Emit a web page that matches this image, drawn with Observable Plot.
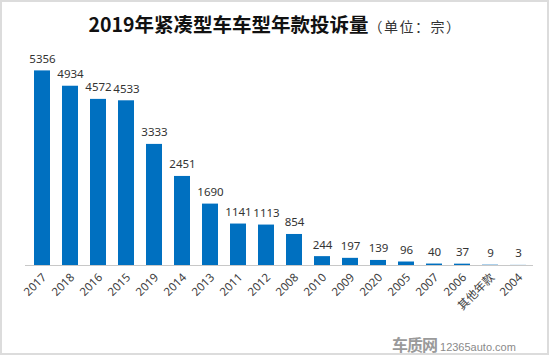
<!DOCTYPE html>
<html>
<head>
<meta charset="utf-8">
<script src="https://cdn.jsdelivr.net/npm/d3@7"></script>
<script src="https://cdn.jsdelivr.net/npm/@observablehq/plot@0.6"></script>
<style>
  html, body { margin: 0; padding: 0; background: #fff; }
  #wrap { position: relative; width: 550px; height: 356px; overflow: hidden; font-family: "Noto Sans CJK SC", "Noto Sans", sans-serif; }
  #frame { position: absolute; left: 0; top: 0; width: 545px; height: 351px; border: 2px solid #dcdcdc; box-sizing: content-box; pointer-events: none; }
  #title { position: absolute; left: 0; top: 9px; width: 550px; text-align: center; white-space: nowrap; color: #111; }
  #title .main { font-size: 19.5px; font-weight: bold; }
  #title .unit { font-size: 14px; color: #333; letter-spacing: 1.5px; }
  #chart { position: absolute; left: 0; top: 0; }
  #logo { position: absolute; left: 392px; top: 332px; white-space: nowrap; color: #8a8a8a; }
  #logo .cn { font-size: 16px; font-weight: bold; color: #9a9a9a; letter-spacing: -1px; }
  #logo .en { font-size: 11px; font-family: "Liberation Sans", sans-serif; color: #8a8a8a; margin-left: 3px; }
</style>
</head>
<body>
<div id="wrap">
  <div id="chart"></div>
  <div id="title"><span class="main">2019年紧凑型车车型年款投诉量</span><span class="unit">（单位：宗）</span></div>
  <div id="logo"><span class="cn">车质网</span><span class="en">12365auto.com</span></div>
  <div id="frame"></div>
</div>
<script>
const categories = ["2017", "2018", "2016", "2015", "2019", "2014", "2013", "2011", "2012", "2008", "2010", "2009", "2020", "2005", "2007", "2006", "其他年款", "2004"];
const values = [5356, 4934, 4572, 4533, 3333, 2451, 1690, 1141, 1113, 854, 244, 197, 139, 96, 40, 37, 9, 3];

const data = categories.map((c, i) => ({category: c, value: values[i]}));

const numFont = "'Noto Sans', 'Noto Sans CJK SC', sans-serif";

const chart = Plot.plot({
  width: 550,
  height: 356,
  marginTop: 47,
  marginBottom: 91,
  marginLeft: 20,
  marginRight: 11,
  style: {fontFamily: numFont, background: "transparent"},
  x: {domain: categories, padding: 0.43, label: null, axis: null},
  y: {domain: [0, 6000], axis: null},
  marks: [
    Plot.barY(data, {x: "category", y: "value", fill: "#0070c0"}),
    Plot.ruleY([0], {stroke: "#c8c8c8", strokeWidth: 1.2, insetLeft: 5, insetRight: 6}),
    Plot.text(data, {x: "category", y: "value", text: d => String(d.value), dy: -8, lineAnchor: "bottom", fontSize: 11.5, fill: "#333"}),
    Plot.axisX({tickSize: 0, tickRotate: -45, tickPadding: 4, dy: 6, dx: 2, fontSize: 11.5, fill: "#404040", label: null})
  ]
});
document.getElementById("chart").appendChild(chart);
</script>
</body>
</html>
